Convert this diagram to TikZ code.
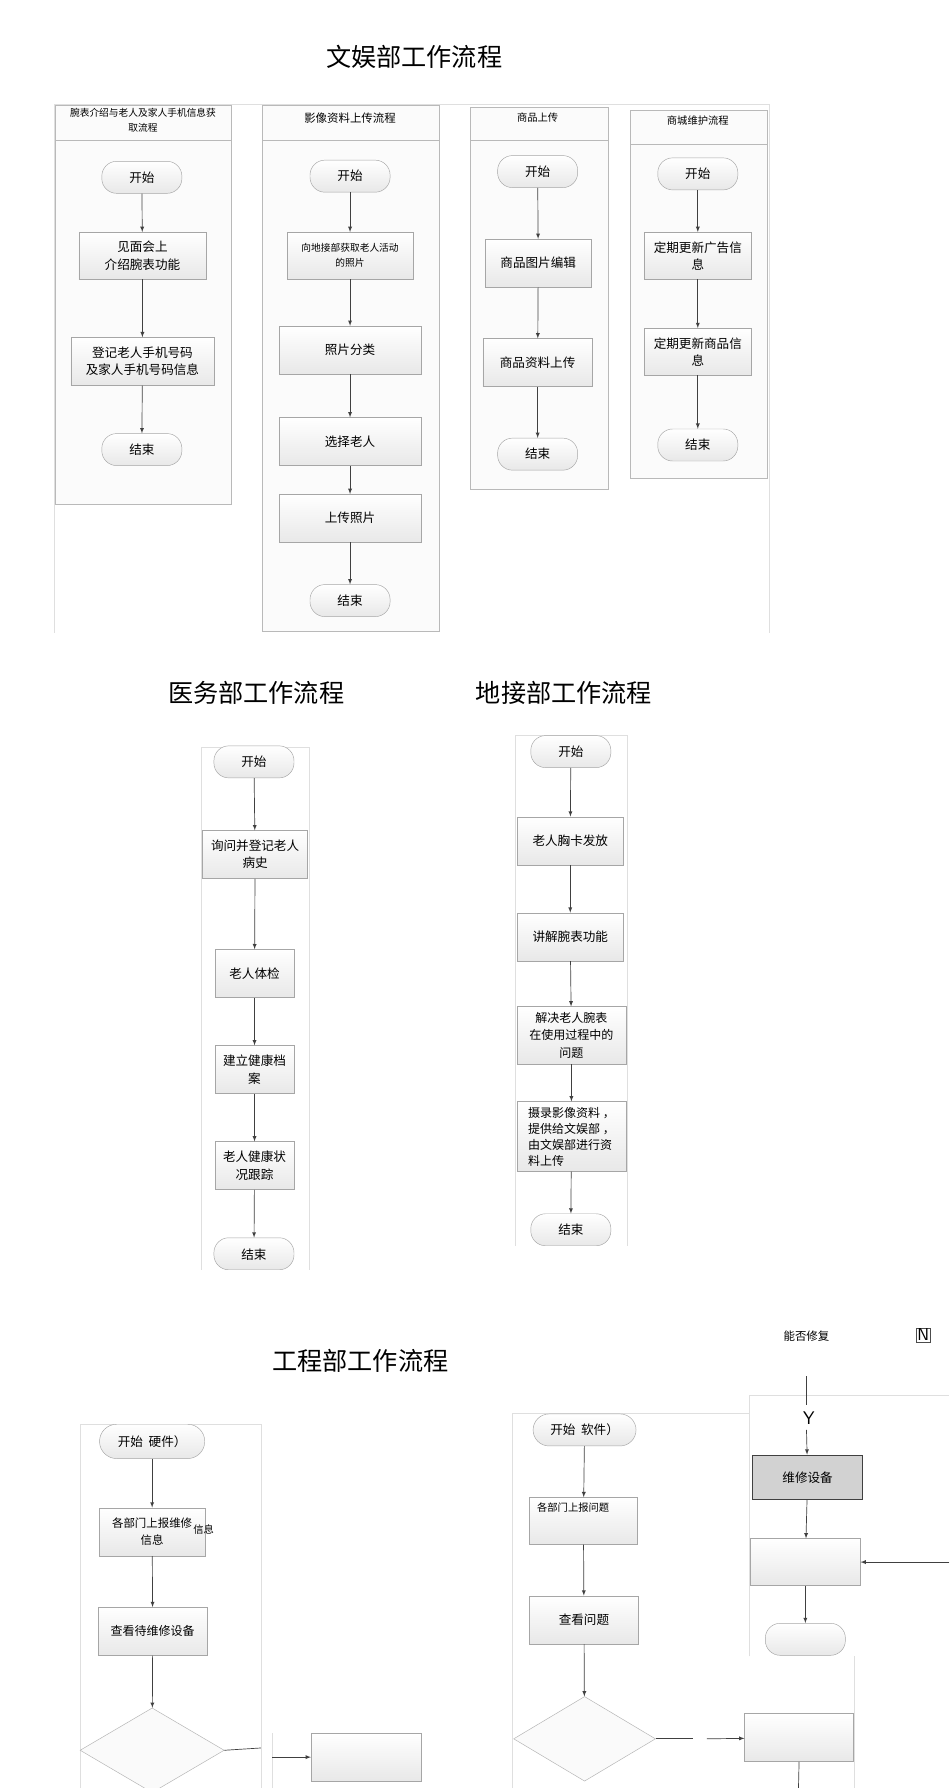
\documentclass[tikz,border=0pt]{standalone}
\usepackage{fontspec}
\setmainfont{Noto Sans CJK SC}
\usetikzlibrary{shapes.geometric,positioning}
\tikzset{
	box/.style={draw=gray!70, top color=white, bottom color=gray!18, align=center,
		font=\fontsize{11}{15}\selectfont, inner sep=2pt},
	term/.style={box, rounded corners=13pt, minimum width=70pt, minimum height=28pt},
	dia/.style={draw=gray!60, fill=gray!4, diamond, minimum width=126pt, minimum height=74pt, inner sep=0pt},
	lane/.style={draw=gray!55, fill=gray!3},
	faint/.style={draw=gray!25},
	flow/.style={-latex, semithick, draw=black!75},
	title/.style={font=\fontsize{22}{24}\selectfont},
}
\begin{document}
\begin{tikzpicture}[x=1pt,y=-1pt]
	\useasboundingbox[fill=white] (0,0) rectangle (830,1563);
	% --- wenyu
	\node[title] (t1) at (362,50) {文娱部工作流程};
	\draw[faint] (47,553) -- (47,91) -- (672,91) -- (672,553);
	\draw[lane] (48,92) rectangle (202,123);
	\draw[lane] (48,123) rectangle (202,441);
	\draw[lane] (229,92) rectangle (384,123);
	\draw[lane] (229,123) rectangle (384,552);
	\draw[lane] (411,94) rectangle (532,123);
	\draw[lane] (411,123) rectangle (532,428);
	\draw[lane] (551,96) rectangle (671,126);
	\draw[lane] (551,126) rectangle (671,418);
	\node[align=center, font=\fontsize{8.5}{13}\selectfont] (l1) at (125,105) {腕表介绍与老人及家人手机信息获\\取流程};
	\node[font=\fontsize{10}{12}\selectfont] (l2) at (306,103) {影像资料上传流程};
	\node[font=\fontsize{9}{12}\selectfont] (l3) at (470,103) {商品上传};
	\node[font=\fontsize{9}{12}\selectfont] (l4) at (610,105) {商城维护流程};

	\node[term] (s1) at (124,155) {开始};
	\node[box, minimum width=111pt, minimum height=41pt] (b11) at (124.5,223.5) {见面会上\\介绍腕表功能};
	\node[box, minimum width=125pt, minimum height=42pt] (b12) at (124.5,316) {登记老人手机号码\\及家人手机号码信息};
	\node[term] (e1) at (124,393) {\raisebox{-8pt}{结束}};
	\draw[flow] (s1) -- (b11);
	\draw[flow] (b11) -- (b12);
	\draw[flow] (b12) -- (e1);

	\node[term] (s2) at (306,154) {开始};
	\node[box, minimum width=110pt, minimum height=41pt, font=\fontsize{8.5}{13}\selectfont] (b21) at (306,223.5) {向地接部获取老人活动\\的照片};
	\node[box, minimum width=124pt, minimum height=42pt] (b22) at (306,306) {照片分类};
	\node[box, minimum width=124pt, minimum height=42pt] (b23) at (306,386) {选择老人};
	\node[box, minimum width=124pt, minimum height=42pt] (b24) at (306,453) {上传照片};
	\node[term] (e2) at (306,525) {\raisebox{-8pt}{结束}};
	\draw[flow] (s2) -- (b21);
	\draw[flow] (b21) -- (b22);
	\draw[flow] (b22) -- (b23);
	\draw[flow] (b23) -- (b24);
	\draw[flow] (b24) -- (e2);

	\node[term] (s3) at (470,150) {开始};
	\node[box, minimum width=93pt, minimum height=42pt] (b31) at (470.5,230) {商品图片编辑};
	\node[box, minimum width=96pt, minimum height=42pt] (b32) at (470,317) {商品资料上传};
	\node[term] (e3) at (470,397) {结束};
	\draw[flow] (s3) -- (b31);
	\draw[flow] (b31) -- (b32);
	\draw[flow] (b32) -- (e3);

	\node[term] (s4) at (610,152) {开始};
	\node[box, minimum width=94pt, minimum height=41pt] (b41) at (610,223.5) {定期更新广告信\\息};
	\node[box, minimum width=94pt, minimum height=41pt] (b42) at (610,307.5) {定期更新商品信\\息};
	\node[term] (e4) at (610,389) {\raisebox{-4pt}{结束}};
	\draw[flow] (s4) -- (b41);
	\draw[flow] (b41) -- (b42);
	\draw[flow] (b42) -- (e4);

	% --- yiwu / dijie
	\node[title] (t2) at (224,606) {医务部工作流程};
	\node[title] (t3) at (493,606) {地接部工作流程};
	\draw[faint] (176,1110) -- (176,653) -- (270,653) -- (270,1110);
	\draw[faint] (450,1089) -- (450,643) -- (548,643) -- (548,1089);
	\node[term] (m0) at (222,666) {开始};
	\node[box, minimum width=92pt, minimum height=42pt] (m1) at (223,747) {询问并登记老人\\病史};
	\node[box, minimum width=69pt, minimum height=42pt] (m2) at (222.5,851) {老人体检};
	\node[box, minimum width=69pt, minimum height=42pt] (m3) at (222.5,935) {建立健康档\\案};
	\node[box, minimum width=69pt, minimum height=42pt] (m4) at (222.5,1019) {老人健康状\\况跟踪};
	\begin{scope}
		\clip (150,1070) rectangle (300,1110);
		\node[term] (m5) at (222,1096) {\raisebox{-10pt}{结束}};
	\end{scope}
	\draw[flow] (m0) -- (m1);
	\draw[flow] (m1) -- (m2);
	\draw[flow] (m2) -- (m3);
	\draw[flow] (m3) -- (m4);
	\draw[flow] (m4) -- (m5);

	\node[term] (d0) at (499,657) {开始};
	\node[box, minimum width=93pt, minimum height=42pt] (d1) at (498.5,735) {老人胸卡发放};
	\node[box, minimum width=93pt, minimum height=42pt] (d2) at (498.5,819) {讲解腕表功能};
	\node[box, minimum width=95pt, minimum height=50pt, font=\fontsize{10.5}{15}\selectfont] (d3) at (499.5,905) {解决老人腕表\\在使用过程中的\\问题};
	\node[box, minimum width=95pt, minimum height=61pt, align=left, font=\fontsize{10.5}{14}\selectfont] (d4) at (499.5,993.5) {摄录影像资料 ，\\提供给文娱部 ，\\由文娱部进行资\\料上传};
	\begin{scope}
		\clip (430,1050) rectangle (570,1089);
		\node[term] (d5) at (499,1075) {\raisebox{-9pt}{结束}};
	\end{scope}
	\draw[flow] (d0) -- (d1);
	\draw[flow] (d1) -- (d2);
	\draw[flow] (d2) -- (d3);
	\draw[flow] (d3) -- (d4);
	\draw[flow] (d4) -- (d5);

	% --- gongcheng
	\node[title] (t4) at (315,1190) {工程部工作流程};
	\node[font=\fontsize{10}{12}\selectfont] (q) at (705,1168) {能否修复};
	\node[draw=black!70, font=\sffamily\fontsize{15}{15}\selectfont, inner sep=1pt] (n) at (807,1167) {N};
	\draw[faint] (70,1563) -- (70,1245) -- (228,1245) -- (228,1563);
	\draw[faint] (238,1515) -- (238,1563);
	\draw[faint] (448,1563) -- (448,1235) -- (655,1235);
	\draw[faint] (655,1448) -- (655,1220) -- (830,1220);
	\draw[faint] (747,1448) -- (747,1563);

	\node[term, minimum width=92pt, minimum height=30pt, rounded corners=15pt] (g0) at (133,1260) {开始 \ 硬件）};
	\node[box, minimum width=92pt, minimum height=42pt, font=\fontsize{10}{15}\selectfont] (g1) at (133,1339) {各部门上报维修\\信息};
	\node[font=\fontsize{9}{11}\selectfont] (g1x) at (178,1337) {信息};
	\node[box, minimum width=95pt, minimum height=42pt, font=\fontsize{10.5}{14}\selectfont] (g2) at (133.5,1426) {\raisebox{-6pt}{查看待维修设备}};
	\node[dia] (g3) at (133,1530) {};
	\coordinate (g3r) at (228,1528);
	\coordinate (g4l) at (238,1536);
	\node[box, minimum width=96pt, minimum height=42pt] (g4) at (320,1536) {};
	\draw[flow] (g0) -- (g1);
	\draw[flow] (g1) -- (g2);
	\draw[flow] (g2) -- (g3);
	\draw[semithick, draw=black!75] (g3.east) -- (g3r);
	\draw[flow] (g4l) -- (g4);

	\node[term, minimum width=90pt, rounded corners=14pt] (h0) at (511,1250) {开始 \ 软件）};
	\node[box, minimum width=94pt, minimum height=41pt] (h1) at (510,1329.5) {};
	\node[anchor=west, font=\fontsize{9}{11}\selectfont] (h1t) at (466,1318) {各部门上报问题};
	\node[box, minimum width=95pt, minimum height=42pt] (h2) at (510.5,1416) {查看问题};
	\node[dia, minimum width=124pt] (h3) at (511,1520) {};
	\coordinate (h3r) at (606,1520);
	\coordinate (h4l) at (618,1520);
	\node[box, minimum width=95pt, minimum height=42pt] (h4) at (698.5,1519) {};
	\coordinate (h4b) at (698,1563);
	\draw[flow] (h0) -- (h1);
	\draw[flow] (h1) -- (h2);
	\draw[flow] (h2) -- (h3);
	\draw[semithick, draw=black!75] (h3.east) -- (h3r);
	\draw[flow] (h4l) -- (h4);
	\draw[semithick, draw=black!75] (h4.south) -- (h4b);

	\coordinate (y0) at (705,1203);
	\coordinate (y1) at (705,1228);
	\coordinate (y2) at (705,1250);
	\node[font=\sffamily\fontsize{16}{16}\selectfont] (y) at (707,1240) {Y};
	\node[draw=black!75, thick, fill=gray!35, minimum width=96pt, minimum height=39pt, font=\fontsize{11}{14}\selectfont] (k1) at (706,1291.5) {维修设备};
	\node[box, minimum width=96pt, minimum height=41pt] (k2) at (704,1365.5) {};
	\node[term] (k3) at (704,1433) {};
	\coordinate (k2r) at (830,1365.5);
	\draw[semithick, draw=black!75] (y0) -- (y1);
	\draw[flow] (y2) -- (k1);
	\draw[flow] (k1) -- (k2);
	\draw[flow] (k2r) -- (k2);
	\draw[flow] (k2) -- (k3);
\end{tikzpicture}
\end{document}
